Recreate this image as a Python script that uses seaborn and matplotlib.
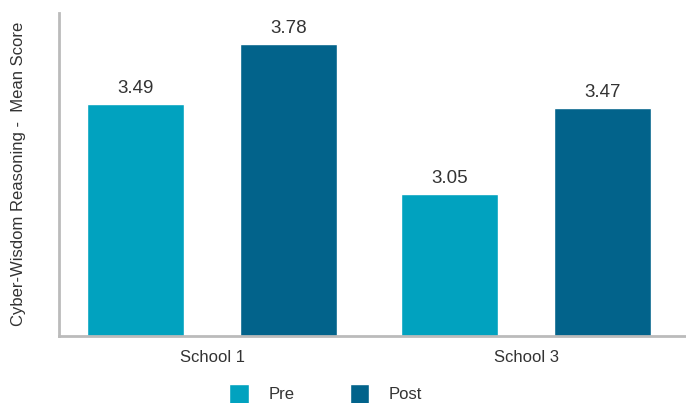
import matplotlib
matplotlib.use("Agg")
import matplotlib.pyplot as plt
import seaborn as sns
import pandas as pd

schools = ["School 1", "School 3"]
phases = ["Pre", "Post"]
pre_values = [3.49, 3.05]
post_values = [3.78, 3.47]
colors = ["#01A2BF", "#02638B"]

df = pd.DataFrame({
    "School": schools * 2,
    "Phase": ["Pre"] * len(schools) + ["Post"] * len(schools),
    "Score": pre_values + post_values,
})

sns.set_style("white")
plt.rcParams["font.family"] = ["Liberation Sans", "DejaVu Sans"]
text_color = "#333333"

fig = plt.figure(figsize=(6.86, 4.03), dpi=100)
ax = fig.add_axes([0.0867, 0.167, 0.9133, 0.801])

sns.barplot(data=df, x="School", y="Score", hue="Phase", order=schools,
            hue_order=phases, palette=colors, width=0.974, gap=0.366,
            saturation=1, ax=ax, legend=True)

for c in ax.containers:
    ax.bar_label(c, fmt="%.2f", padding=5, fontsize=13.5, color=text_color)

ax.set_ylim(2.365, 3.93)
ax.set_xlim(-0.486, 1.508)
ax.set_yticks([])
ax.set_xlabel("")
ax.set_ylabel("Cyber-Wisdom Reasoning -  Mean Score", fontsize=12,
              color=text_color)
ax.yaxis.set_label_coords(-0.053, 0.5)
ax.tick_params(axis="x", length=0, pad=10, labelsize=12, labelcolor=text_color)

for s in ["top", "right"]:
    ax.spines[s].set_visible(False)
for s in ["left", "bottom"]:
    ax.spines[s].set_color("#BBBBBB")
    ax.spines[s].set_linewidth(2)

ax.legend(loc="center", bbox_to_anchor=(0.425, -0.18), ncol=2, frameon=False,
          fontsize=12, handlelength=1.15, handleheight=1.5, handletextpad=1.2,
          columnspacing=3.3, labelcolor=text_color)

fig.savefig("out.png", dpi=100)
